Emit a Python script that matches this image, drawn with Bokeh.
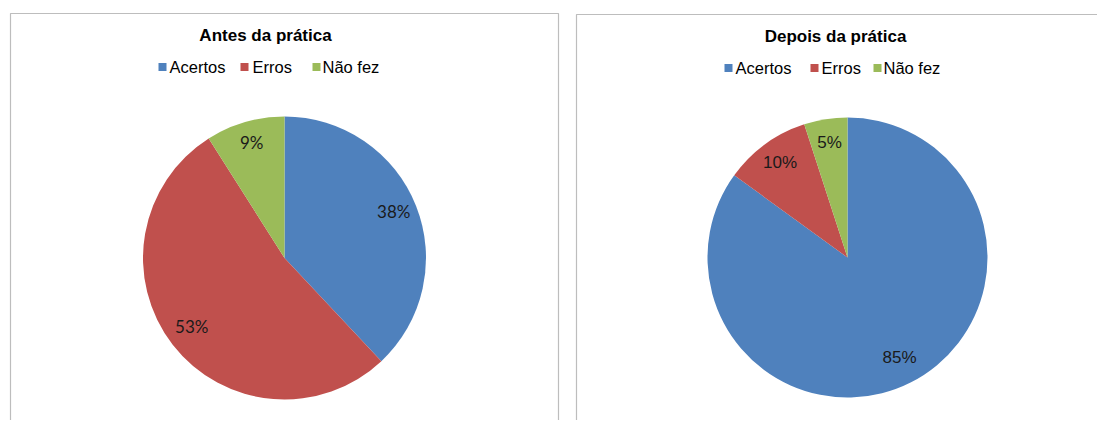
import math
from bokeh.plotting import figure
from bokeh.models import Range1d
from bokeh.core.properties import value
from bokeh.embed import file_html
from bokeh.resources import INLINE

categories = ["Acertos", "Erros", "Não fez"]
before_values = [38, 53, 9]
after_values = [85, 10, 5]
titles = ["Antes da prática", "Depois da prática"]
colors = ["#4F81BD", "#C0504D", "#9BBB59"]

W, H = 1097, 420
p = figure(width=W, height=H, x_range=Range1d(0, W), y_range=Range1d(0, H),
           output_backend="svg", toolbar_location=None, min_border=0)
p.axis.visible = False
p.grid.visible = False
p.outline_line_color = None
p.background_fill_color = "white"


def Y(sy):
    return H - sy


panels = [
    dict(values=before_values, title=titles[0], box=(10, 558, 13), cx=284, cy=257.5, r=141.5,
         title_x=265, title_base=35, leg_sq=[162, 244, 316], leg_tx=[169, 252, 322], leg_base=66,
         sq_y=66.5, lab_font="Lato", lab_size="17px", lab_r=0.83, lab_dy=-3),
    dict(values=after_values, title=titles[1], box=(576, 1120, 14), cx=847, cy=257, r=140,
         title_x=835, title_base=36, leg_sq=[728, 814, 877], leg_tx=[735, 821, 883], leg_base=67,
         sq_y=67.5, lab_font="Liberation Sans", lab_size="17px", lab_r=0.82, lab_dy=-2),
]

for pn in panels:
    l, r_, t = pn["box"]
    p.quad(left=[l], right=[r_], top=[Y(t)], bottom=[-20], fill_color=None,
           line_color="#BDBDBD", line_width=1.2)
    vals = pn["values"]
    total = float(sum(vals))
    cum = 0.0
    starts, ends, lx, ly, labs = [], [], [], [], []
    for v in vals:
        a0 = math.pi / 2 - 2 * math.pi * cum / total
        a1 = math.pi / 2 - 2 * math.pi * (cum + v) / total
        starts.append(a0)
        ends.append(a1)
        mid = (a0 + a1) / 2
        lx.append(pn["cx"] + pn["lab_r"] * pn["r"] * math.cos(mid))
        ly.append(Y(pn["cy"] + pn["lab_dy"]) + pn["lab_r"] * pn["r"] * math.sin(mid))
        labs.append(f"{v}%")
        cum += v
    p.wedge(x=pn["cx"], y=Y(pn["cy"]), radius=pn["r"], start_angle=starts, end_angle=ends,
            direction="clock", fill_color=colors, line_color=None)
    p.text(x=lx, y=ly, text=labs, text_align="center", text_baseline="middle",
           text_font=value(pn["lab_font"]), text_font_size=pn["lab_size"], text_color="#1a1a1a")
    p.text(x=[pn["title_x"]], y=[Y(pn["title_base"])], text=[pn["title"]], text_align="center",
           text_baseline="alphabetic", text_font=value("Liberation Sans"), text_font_style="bold",
           text_font_size="17px", text_color="#000000")
    p.rect(x=pn["leg_sq"], y=[Y(pn["sq_y"])] * 3, width=8, height=8, width_units="screen",
           height_units="screen", fill_color=colors, line_color=None)
    p.text(x=pn["leg_tx"], y=[Y(pn["leg_base"])] * 3, text=categories, text_align="left",
           text_baseline="alphabetic", text_font=value("Liberation Sans"), text_font_size="16.5px",
           text_color="#000000")

open("out.html", "w").write(file_html(p, INLINE))
